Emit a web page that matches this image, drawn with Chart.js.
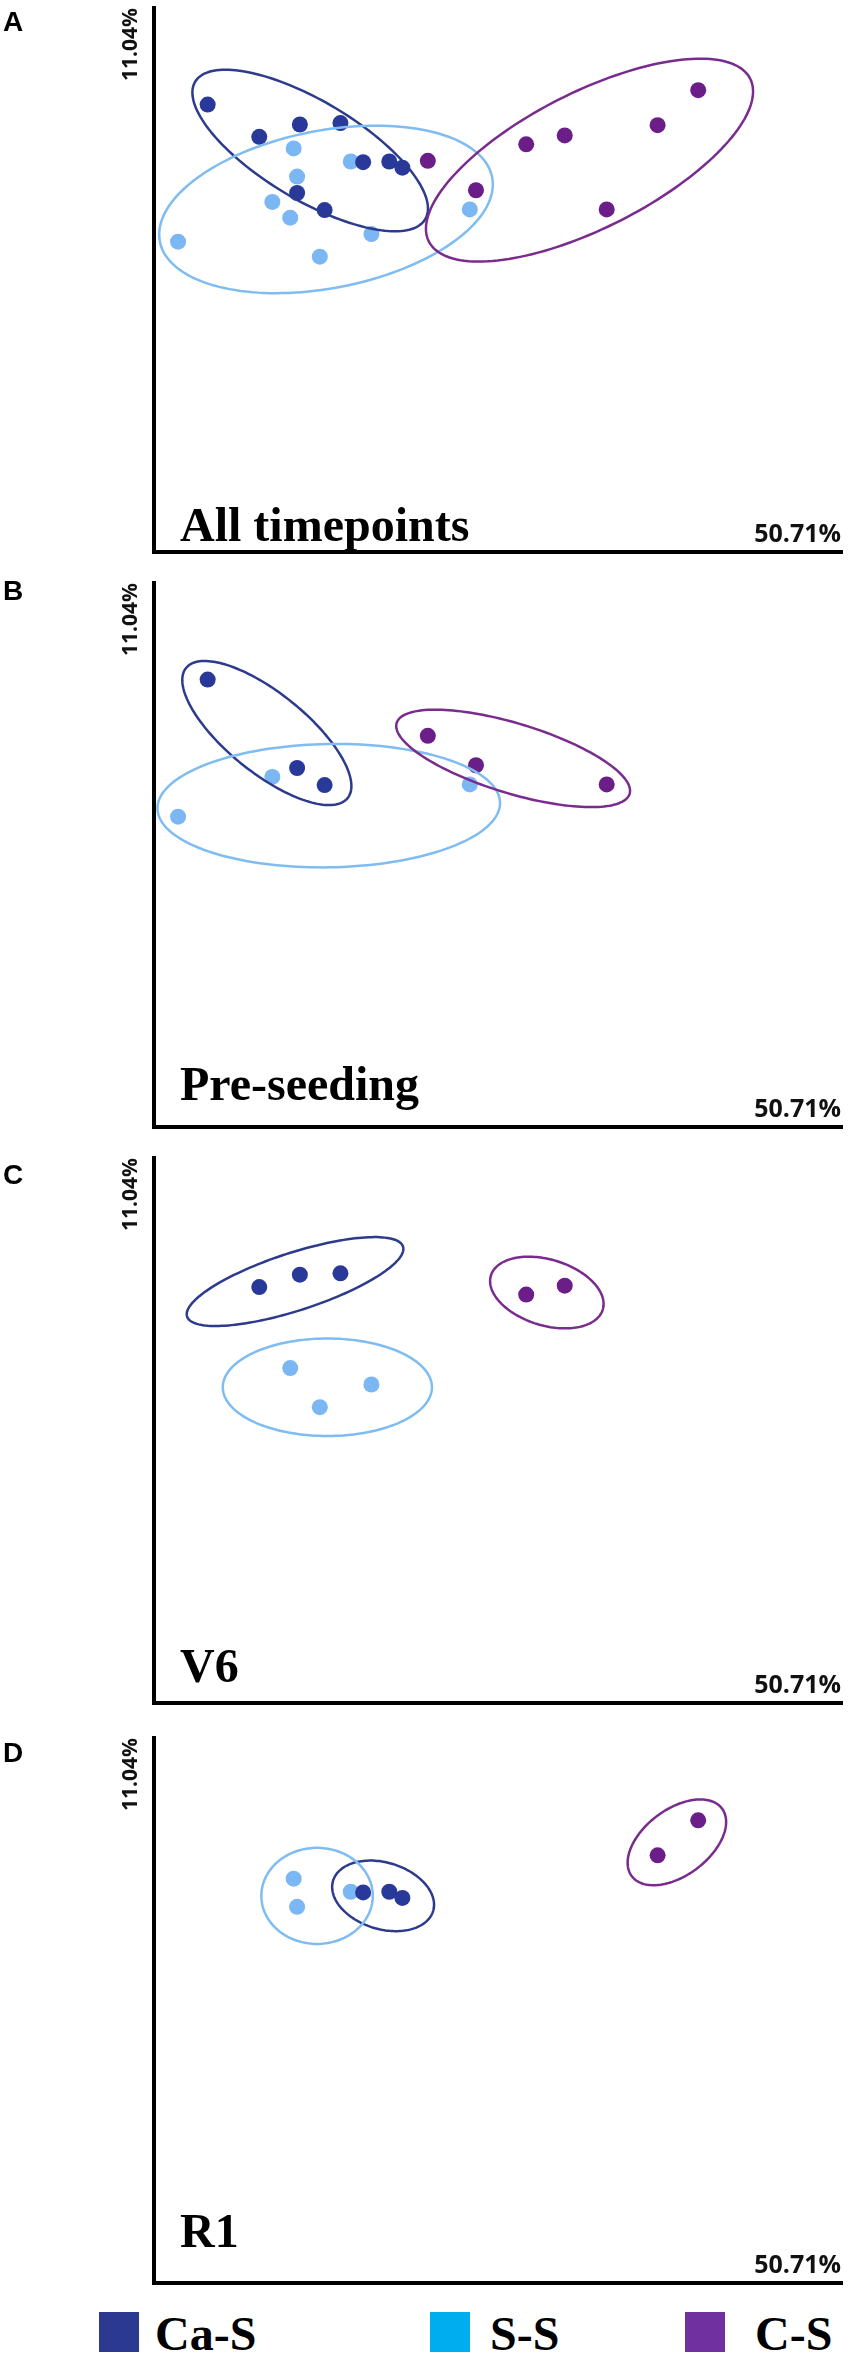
<!DOCTYPE html>
<html>
<head>
<meta charset="utf-8">
<script src="https://cdn.jsdelivr.net/npm/chart.js@4.4.1/dist/chart.umd.min.js"></script>
<style>
  html, body { margin: 0; padding: 0; background: #ffffff; }
  body { width: 850px; height: 2358px; position: relative; overflow: hidden; }
  canvas.panel { position: absolute; left: 0; }
  .sq { position: absolute; width: 40px; height: 40px; top: 2312px; }
  .lt { position: absolute; top: 2310px; font: bold 48px 'Liberation Serif', 'Times New Roman', serif; line-height: 48px; color: #000; white-space: nowrap; }
</style>
</head>
<body>
<canvas id="cA" class="panel" width="850" height="575" style="top:0px;width:850px;height:575px"></canvas>
<canvas id="cB" class="panel" width="850" height="575" style="top:575px;width:850px;height:575px"></canvas>
<canvas id="cC" class="panel" width="850" height="580" style="top:1150px;width:850px;height:580px"></canvas>
<canvas id="cD" class="panel" width="850" height="570" style="top:1730px;width:850px;height:570px"></canvas>

<div class="sq" style="left:99px;background:#2b3990"></div>
<div class="lt" style="left:155px">Ca-S</div>
<div class="sq" style="left:430px;background:#00aeef"></div>
<div class="lt" style="left:490px">S-S</div>
<div class="sq" style="left:685px;background:#7030a0"></div>
<div class="lt" style="left:755px">C-S</div>

<script>
// ---------------- data ----------------
const groups = ['Ca-S', 'S-S', 'C-S'];
const xAxisLabel = '50.71%';
const yAxisLabel = '11.04%';
const panelLetters = ['A', 'B', 'C', 'D'];
const panelTitles = ['All timepoints', 'Pre-seeding', 'V6', 'R1'];

// sample scores [axis1, axis2] per timepoint and group
const preCaS = [[7.8, 65.3], [20.8, 52.4], [24.8, 49.9]];
const preSS  = [[17.2, 51.1], [3.5, 45.3], [45.9, 50.0]];
const preCS  = [[39.8, 57.1], [46.8, 52.8], [65.8, 50.0]];

const v6CaS = [[15.3, 60.6], [21.2, 62.4], [27.1, 62.6]];
const v6SS  = [[19.8, 48.8], [31.6, 46.4], [24.1, 43.1]];
const v6CS  = [[54.1, 59.5], [59.7, 60.8]];

const r1CaS = [[30.4, 56.9], [34.2, 57.0], [36.1, 56.1]];
const r1SS  = [[20.3, 58.9], [20.8, 54.8], [28.6, 57.0]];
const r1CS  = [[73.2, 62.3], [79.1, 67.4]];

// group ellipses [centre x, centre y, semi-major, semi-minor, angle deg] in order Ca-S, S-S, C-S
const ellAll = [[22.7, 58.6, 19.5, 7.2, -31], [25.0, 50.0, 24.6, 11.5, 11], [63.3, 57.2, 26.2, 9.9, 27]];
const ellPre = [[16.4, 57.5, 15.1, 5.8, -39], [25.4, 46.9, 24.9, 9.0, 1], [52.2, 53.8, 17.7, 5.1, -17]];
const ellV6  = [[20.5, 61.4, 16.5, 4.2, 18], [25.2, 46.0, 15.2, 7.1, 0], [57.1, 59.8, 8.5, 4.8, -17]];
const ellR1  = [[33.3, 56.4, 7.6, 4.85, -17], [23.7, 56.4, 8.1, 7.0, 0], [76.0, 64.2, 8.2, 4.8, 37]];

const xRange = [0, 100];
const yRange = [0, 79.4];

// ---------------- styles ----------------
const dotColors  = ['#28399a', '#7ab7f3', '#6b1e88'];
const ringColors = ['#2d3b8c', '#7fbcf1', '#7a2b8e'];

const panels = [
  { id: 'cA', points: [preCaS.concat(v6CaS, r1CaS), preSS.concat(v6SS, r1SS), preCS.concat(v6CS, r1CS)], ell: ellAll,
    pad: { top: 3, bottom: 23 }, letterY: 31, titleOff: 11 },
  { id: 'cB', points: [preCaS, preSS, preCS], ell: ellPre, pad: { top: 2, bottom: 23 }, letterY: 25, titleOff: 27 },
  { id: 'cC', points: [v6CaS, v6SS, v6CS], ell: ellV6, pad: { top: 3, bottom: 27 }, letterY: 34, titleOff: 21 },
  { id: 'cD', points: [r1CaS, r1SS, r1CS], ell: ellR1, pad: { top: 3, bottom: 17 }, letterY: 32, titleOff: 36 }
];

function ellipsePlugin(items) {
  return {
    id: 'groupEllipses',
    afterDatasetsDraw(chart) {
      const ctx = chart.ctx, xs = chart.scales.x, ys = chart.scales.y;
      items.forEach((e, i) => {
        const [cx, cy, a, b, deg] = e;
        const th = deg * Math.PI / 180;
        ctx.save();
        ctx.beginPath();
        const n = 160;
        for (let k = 0; k <= n; k++) {
          const t = k / n * Math.PI * 2;
          const dx = a * Math.cos(t), dy = b * Math.sin(t);
          const X = cx + dx * Math.cos(th) - dy * Math.sin(th);
          const Y = cy + dx * Math.sin(th) + dy * Math.cos(th);
          const px = xs.getPixelForValue(X), py = ys.getPixelForValue(Y);
          if (k === 0) ctx.moveTo(px, py); else ctx.lineTo(px, py);
        }
        ctx.closePath();
        ctx.strokeStyle = ringColors[i];
        ctx.lineWidth = 2.5;
        ctx.stroke();
        ctx.restore();
      });
    }
  };
}

function textPlugin(idx, p) {
  return {
    id: 'panelText',
    afterDraw(chart) {
      const ctx = chart.ctx, ca = chart.chartArea;
      ctx.save();
      ctx.fillStyle = '#000';
      ctx.textBaseline = 'alphabetic';
      // panel letter
      ctx.textAlign = 'left';
      ctx.font = "bold 28px 'Liberation Sans', Arial, sans-serif";
      ctx.fillText(panelLetters[idx], 3, p.letterY);
      // panel title
      ctx.font = "bold 48px 'Liberation Serif', 'Times New Roman', serif";
      ctx.fillText(panelTitles[idx], ca.left + 26, ca.bottom - p.titleOff);
      // x-axis label
      ctx.textAlign = 'right';
      ctx.fillStyle = '#111';
      ctx.font = "bold 25px 'Open Sans', sans-serif";
      ctx.fillText(xAxisLabel, ca.right - 1, ca.bottom - 10);
      ctx.restore();
    }
  };
}

panels.forEach((p, idx) => {
  const ctx = document.getElementById(p.id).getContext('2d');
  new Chart(ctx, {
    type: 'scatter',
    data: {
      datasets: groups.map((g, i) => ({
        label: g,
        data: p.points[i].map(([x, y]) => ({ x, y })),
        backgroundColor: dotColors[i],
        borderColor: dotColors[i],
        borderWidth: 0,
        pointRadius: 8,
        pointHoverRadius: 8
      }))
    },
    options: {
      responsive: false,
      animation: false,
      devicePixelRatio: 1,
      events: [],
      layout: { padding: { left: 118.8, right: 4, top: p.pad.top, bottom: p.pad.bottom } },
      plugins: { legend: { display: false }, tooltip: { enabled: false }, title: { display: false } },
      scales: {
        x: {
          type: 'linear', min: xRange[0], max: xRange[1],
          ticks: { display: false },
          grid: { display: false, drawTicks: false },
          border: { display: true, color: '#000', width: 4 }
        },
        y: {
          type: 'linear', min: yRange[0], max: yRange[1],
          ticks: { display: false },
          grid: { display: false, drawTicks: false },
          border: { display: true, color: '#000', width: 4 },
          title: {
            display: true, text: yAxisLabel, align: 'end', color: '#111',
            font: { family: "'Open Sans', sans-serif", weight: 'bold', size: 21 },
            padding: { top: 0, bottom: 10 }
          }
        }
      }
    },
    plugins: [ellipsePlugin(p.ell), textPlugin(idx, p)]
  });
});
</script>
</body>
</html>
